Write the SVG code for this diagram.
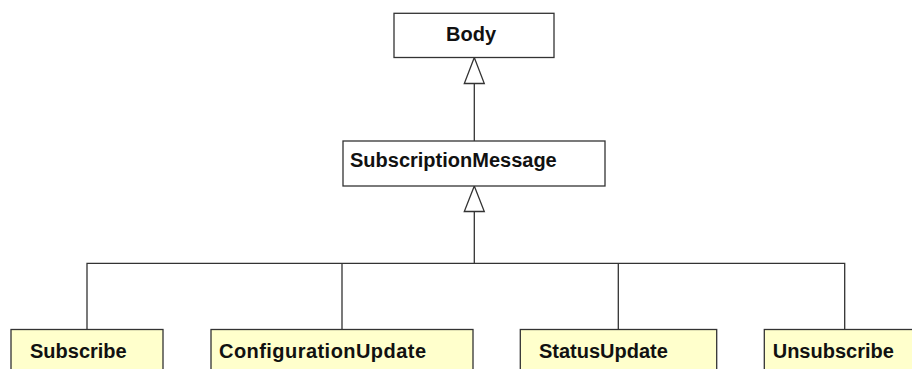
<svg xmlns="http://www.w3.org/2000/svg" width="912" height="369" viewBox="0 0 912 369">
<style>
.box{stroke:#333;stroke-width:1.3}
.cls{fill:#fff}
.leaf{fill:#ffffcc}
.lbl{font-family:"Liberation Sans",Arial,sans-serif;font-weight:bold;font-size:20px;fill:#111}
.conn{fill:none;stroke:#333;stroke-width:1.3}
.tri{fill:#fff;stroke:#333;stroke-width:1.3}
</style>
<rect width="912" height="369" fill="#fff"/>
<g id="connectors">
<path class="conn" d="M474.3 83.5 V141"/>
<polygon class="tri" points="474.3,57.5 464.3,83.5 484.3,83.5"/>
<path class="conn" d="M474.3 211.5 V263.3 M87 329.5 V263.3 H844.7 V329.5 M342 263.3 V329.5 M618.3 263.3 V329.5"/>
<polygon class="tri" points="474.3,186 464.3,211.5 484.3,211.5"/>
</g>
<g id="Body">
<rect class="box cls" x="394" y="13.3" width="160" height="44.2"/>
<text class="lbl" x="446" y="41">Body</text>
</g>
<g id="SubscriptionMessage">
<rect class="box cls" x="343" y="141" width="262" height="45"/>
<text class="lbl" x="350" y="167">SubscriptionMessage</text>
</g>
<g id="Subscribe">
<rect class="box leaf" x="11" y="329.5" width="152" height="60"/>
<text class="lbl" x="30" y="357.5">Subscribe</text>
</g>
<g id="ConfigurationUpdate">
<rect class="box leaf" x="211" y="329.5" width="262" height="60"/>
<text class="lbl" x="219" y="357.5" textLength="207">ConfigurationUpdate</text>
</g>
<g id="StatusUpdate">
<rect class="box leaf" x="520.3" y="329.5" width="196.4" height="60"/>
<text class="lbl" x="539" y="357.5">StatusUpdate</text>
</g>
<g id="Unsubscribe">
<rect class="box leaf" x="764.3" y="329.5" width="160" height="60"/>
<text class="lbl" x="772.7" y="357.5">Unsubscribe</text>
</g>
</svg>
